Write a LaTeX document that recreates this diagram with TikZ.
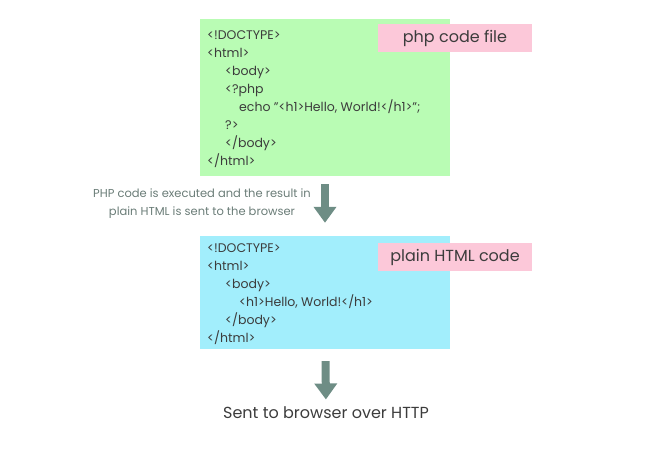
\documentclass[tikz,border=0pt]{standalone}
\usepackage{fontspec}
\setmainfont{Poppins}
\usepackage{xcolor}
\usetikzlibrary{arrows.meta, positioning}
\definecolor{codegreen}{HTML}{B9FCB4}
\definecolor{codeblue}{HTML}{A2EEFC}
\definecolor{tagpink}{HTML}{FCC8D9}
\definecolor{arrowgray}{HTML}{6E8D85}
\definecolor{textdark}{HTML}{3C3C3C}
\definecolor{notegray}{HTML}{6A7C77}
\tikzset{
  codebox/.style={
    rectangle, minimum width=250pt, inner sep=0pt
  },
  code/.style={
    anchor=north west, align=left, inner sep=0pt, text=textdark,
    font=\fontsize{12.5}{18}\selectfont
  },
  tag/.style={
    rectangle, fill=tagpink, minimum width=154pt, minimum height=28pt,
    inner sep=0pt, text=textdark, font=\fontsize{16}{18}\selectfont
  },
  flow/.style={-{Triangle[width=22pt,length=16pt]}, line width=8pt, color=arrowgray},
  note/.style={align=center, text=notegray, font=\fontsize{11.5}{18}\selectfont}
}
\newcommand{\indA}{\hspace*{18pt}}
\newcommand{\indB}{\hspace*{32pt}}
\newcommand{\dq}{\symbol{34}}

\begin{document}
\begin{tikzpicture}[x=1pt, y=-1pt]
  \useasboundingbox (0,0) rectangle (650,450);

  % Code boxes
  \node[codebox, fill=codegreen, minimum height=157pt] (phpbox) at (325,97.5) {};
  \node[codebox, fill=codeblue, minimum height=113pt] (htmlbox) at (325,292.5) {};

  % Labels
  \node[tag] (phptag) at (455,38) {php code file};
  \node[tag] (htmltag) at (455,257) {plain HTML code};

  % Code lines
  \node[code] (phpcode) at (207,30) {%
    <!DOCTYPE>\\
    <html>\\
    \indA<body>\\
    \indA<?php\\
    \indB echo \dq<h1>Hello, World!</h1>\dq;\\
    \indA?>\\
    \indA</body>\\
    </html>};
  \node[code] (htmlcode) at (207,243) {%
    <!DOCTYPE>\\
    <html>\\
    \indA<body>\\
    \indB<h1>Hello, World!</h1>\\
    \indA</body>\\
    </html>};

  % Notes
  \node[note] (exec) at (202,204)
    {PHP code is executed and the result in\\plain HTML is sent to the browser};
  \node[text=textdark, font=\fontsize{16}{18}\selectfont] (sent) at (326,413)
    {Sent to browser over HTTP};

  % Arrows
  \draw[flow, shorten <=8pt, shorten >=13pt] (phpbox) -- (htmlbox);
  \draw[flow, shorten <=12pt, shorten >=4pt] (htmlbox) -- (sent);

\end{tikzpicture}
\end{document}
